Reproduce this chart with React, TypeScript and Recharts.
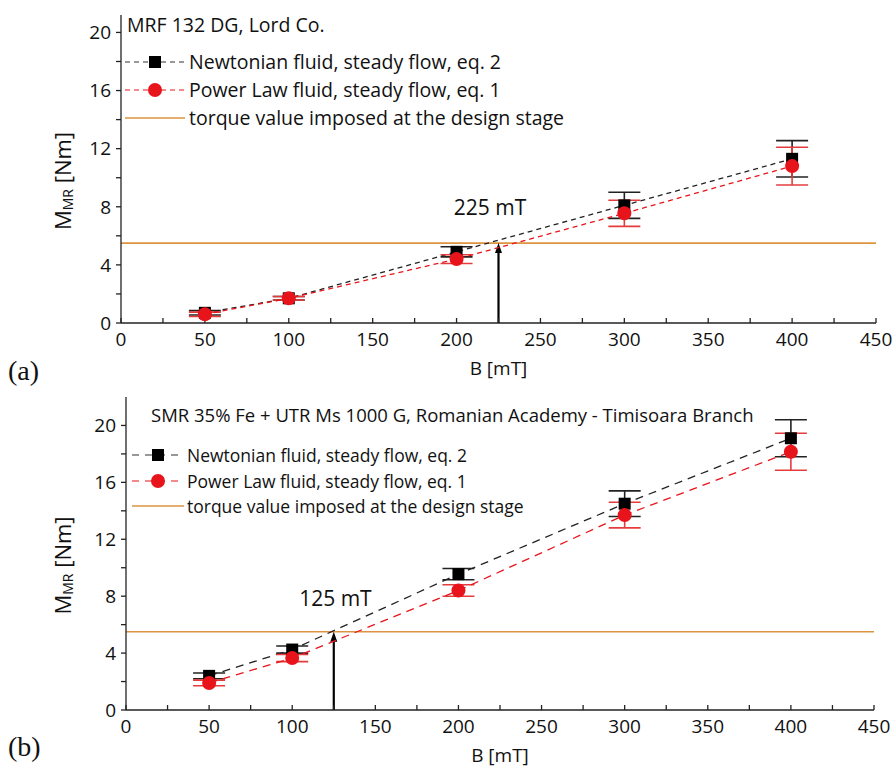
import React from "react";
import {
  ComposedChart,
  Line,
  XAxis,
  YAxis,
  ErrorBar,
  ReferenceLine,
  ReferenceDot,
} from "recharts";

// magnetic induction B [mT]
const bField = [50, 100, 200, 300, 400];

// (a) MRF 132 DG, Lord Co.
const newtonianA = [0.7, 1.7, 4.9, 8.1, 11.3];
const newtonianAErr = [0.15, 0.12, 0.35, 0.9, 1.25];
const powerLawA = [0.6, 1.7, 4.4, 7.55, 10.8];
const powerLawAErr = [0.15, 0.12, 0.3, 0.9, 1.3];

// (b) SMR 35% Fe + UTR Ms 1000 G
const newtonianB = [2.4, 4.25, 9.55, 14.5, 19.1];
const newtonianBErr = [0.2, 0.25, 0.4, 0.9, 1.3];
const powerLawB = [1.9, 3.65, 8.4, 13.7, 18.15];
const powerLawBErr = [0.2, 0.25, 0.4, 0.9, 1.3];

const torqueDesign = 5.5;
const xTicks = [0, 25, 50, 75, 100, 125, 150, 175, 200, 225, 250, 275, 300, 325, 350, 375, 400, 425, 450];
const yTicks = [0, 2, 4, 6, 8, 10, 12, 14, 16, 18, 20];

const FONT = "'Open Sans', 'Noto Sans', sans-serif";
const RED = "#e8141b";
const RED_BAR = "#e43c3c";
const ORANGE = "#dc9440";

const makeRows = (n: number[], nErr: number[], p: number[], pErr: number[]) =>
  bField.map((b, i) => ({ b, newt: n[i], newtErr: nErr[i], power: p[i], powerErr: pErr[i] }));

const rowsA = makeRows(newtonianA, newtonianAErr, powerLawA, powerLawAErr);
const rowsB = makeRows(newtonianB, newtonianBErr, powerLawB, powerLawBErr);

const SquareDot = (props: any) => {
  const { cx, cy, index } = props;
  if (cx == null || cy == null) return null;
  return <rect key={`sq-${index}`} x={cx - 6} y={cy - 6} width={12} height={12} fill="#000" />;
};

const Arrow = (props: any) => {
  const { x1, y1, y2 } = props;
  const top = Math.min(y1, y2);
  const bottom = Math.max(y1, y2);
  return (
    <g>
      <line x1={x1} y1={bottom} x2={x1} y2={top + 8} stroke="#000" strokeWidth={2.2} />
      <polygon points={`${x1 - 3.5},${top + 10} ${x1 + 3.5},${top + 10} ${x1},${top}`} fill="#000" />
    </g>
  );
};

const YLabel = (props: any) => {
  const vb = props.viewBox || {};
  const x = 62;
  const y = vb.y + vb.height / 2 + 12;
  return (
    <text
      x={x}
      y={y}
      transform={`rotate(-90 ${x} ${y})`}
      textAnchor="middle"
      dominantBaseline="central"
      fontFamily={FONT}
      fontSize={22}
      fill="#111"
    >
      M
      <tspan fontSize={14} dy={5}>
        MR
      </tspan>
      <tspan dy={-5}> [Nm]</tspan>
    </text>
  );
};

const XLabel = (props: any) => {
  const vb = props.viewBox || {};
  return (
    <text
      x={vb.x + vb.width / 2}
      y={vb.y + 45}
      textAnchor="middle"
      dominantBaseline="central"
      fontFamily={FONT}
      fontSize={19}
      fill="#111"
    >
      B [mT]
    </text>
  );
};

const tickStyle = { fontFamily: FONT, fontSize: 19, fill: "#111" };

type LegendProps = {
  top: number;
  iconLeft: number;
  iconWidth: number;
  textLeft: number;
  title: string;
  titleLeft: number;
  titleY: number;
  titleSize: number;
  textSize: number;
  rowYs: number[];
  dash: string;
};

function LegendOverlay(p: LegendProps) {
  const entries = [
    { label: "Newtonian fluid, steady flow, eq. 2", kind: "square" },
    { label: "Power Law fluid, steady flow, eq. 1", kind: "circle" },
    { label: "torque value imposed at the design stage", kind: "line" },
  ];
  const mid = p.iconWidth / 2;
  return (
    <div style={{ position: "absolute", left: 0, top: p.top, fontFamily: FONT, color: "#111" }}>
      <div
        style={{
          position: "absolute",
          left: p.titleLeft,
          top: p.titleY - p.titleSize * 0.7,
          fontSize: p.titleSize,
          lineHeight: `${p.titleSize * 1.4}px`,
          whiteSpace: "nowrap",
        }}
      >
        {p.title}
      </div>
      {entries.map((e, i) => (
        <div key={e.label}>
          <svg
            style={{ position: "absolute", left: p.iconLeft, top: p.rowYs[i] - 10 }}
            width={p.iconWidth}
            height={20}
          >
            {e.kind === "line" ? (
              <line x1={0} y1={10} x2={p.iconWidth} y2={10} stroke={ORANGE} strokeWidth={1.6} />
            ) : (
              <line
                x1={0}
                y1={10}
                x2={p.iconWidth}
                y2={10}
                stroke={e.kind === "square" ? "#333" : RED}
                strokeWidth={1.2}
                strokeDasharray={p.dash}
              />
            )}
            {e.kind === "square" && <rect x={mid - 6} y={4} width={12} height={12} fill="#000" />}
            {e.kind === "circle" && <circle cx={mid} cy={10} r={7} fill={RED} />}
          </svg>
          <div
            style={{
              position: "absolute",
              left: p.textLeft,
              top: p.rowYs[i] - p.textSize * 0.7,
              fontSize: p.textSize,
              lineHeight: `${p.textSize * 1.4}px`,
              whiteSpace: "nowrap",
            }}
          >
            {e.label}
          </div>
        </div>
      ))}
    </div>
  );
}

type PanelProps = {
  rows: any[];
  height: number;
  margin: { top: number; right: number; bottom: number; left: number };
  yMax: number;
  dash: string;
  crossB: number;
  noteX: number;
  noteY: number;
};

function Panel({ rows, height, margin, yMax, dash, crossB, noteX, noteY }: PanelProps) {
  return (
    <ComposedChart width={893} height={height} data={rows} margin={margin}>
      <XAxis
        type="number"
        dataKey="b"
        domain={[0, 450]}
        ticks={xTicks}
        interval={0}
        tickFormatter={(v: number) => (v % 50 === 0 ? String(v) : "")}
        tickSize={-5}
        tickMargin={15}
        height={30}
        tick={tickStyle}
        stroke="#222"
        strokeWidth={1.3}
        label={<XLabel />}
      />
      <YAxis
        type="number"
        domain={[0, yMax]}
        ticks={yTicks}
        interval={0}
        allowDataOverflow
        tickFormatter={(v: number) => (v % 4 === 0 ? String(v) : "")}
        tickSize={5}
        tickMargin={5}
        width={60}
        tick={tickStyle}
        stroke="#222"
        strokeWidth={1.3}
        label={<YLabel />}
      />
      <ReferenceLine y={torqueDesign} stroke={ORANGE} strokeWidth={1.6} />
      <ReferenceLine
        segment={[
          { x: crossB, y: 0 },
          { x: crossB, y: torqueDesign },
        ]}
        shape={<Arrow />}
      />
      <ReferenceDot
        x={noteX}
        y={noteY}
        r={0}
        fill="none"
        stroke="none"
        label={{ value: `${crossB} mT`, position: "center", fill: "#111", fontSize: 21, fontFamily: FONT }}
      />
      <Line
        type="linear"
        dataKey="newt"
        stroke="#222"
        strokeWidth={1.3}
        strokeDasharray={dash}
        dot={<SquareDot />}
        isAnimationActive={false}
      >
        <ErrorBar dataKey="newtErr" direction="y" width={16} stroke="#222" strokeWidth={1.6} />
      </Line>
      <Line
        type="linear"
        dataKey="power"
        stroke={RED}
        strokeWidth={1.3}
        strokeDasharray={dash}
        dot={{ r: 7, fill: RED, stroke: "none" }}
        isAnimationActive={false}
      >
        <ErrorBar dataKey="powerErr" direction="y" width={16} stroke={RED_BAR} strokeWidth={1.6} />
      </Line>
    </ComposedChart>
  );
}

export default function App() {
  return (
    <div style={{ position: "absolute", left: 0, top: 0, width: 893, height: 769, background: "#fff" }}>
      <div style={{ position: "absolute", left: 0, top: 0 }}>
        <Panel
          rows={rowsA}
          height={385}
          margin={{ top: 15, right: 17, bottom: 32, left: 61 }}
          yMax={21.2}
          dash="5 4"
          crossB={225}
          noteX={220}
          noteY={7.95}
        />
      </div>
      <LegendOverlay
        top={0}
        iconLeft={125}
        iconWidth={60}
        textLeft={189}
        title="MRF 132 DG, Lord Co."
        titleLeft={127}
        titleY={25}
        titleSize={19.5}
        textSize={19.5}
        rowYs={[62, 90, 118]}
        dash="5 4"
      />
      <div style={{ position: "absolute", left: 0, top: 385 }}>
        <Panel
          rows={rowsB}
          height={384}
          margin={{ top: 12, right: 19, bottom: 29, left: 66 }}
          yMax={22}
          dash="8 6"
          crossB={125}
          noteX={126}
          noteY={7.85}
        />
      </div>
      <LegendOverlay
        top={385}
        iconLeft={132}
        iconWidth={52}
        textLeft={187}
        title="SMR 35% Fe + UTR Ms 1000 G, Romanian Academy - Timisoara Branch"
        titleLeft={151}
        titleY={30}
        titleSize={18.5}
        textSize={17.5}
        rowYs={[70, 96, 121]}
        dash="7 6"
      />
      <div
        style={{
          position: "absolute",
          left: 8,
          top: 354,
          fontFamily: "'Liberation Serif', 'Times New Roman', serif",
          fontSize: 28,
          lineHeight: "34px",
          color: "#111",
        }}
      >
        (a)
      </div>
      <div
        style={{
          position: "absolute",
          left: 8,
          top: 730,
          fontFamily: "'Liberation Serif', 'Times New Roman', serif",
          fontSize: 28,
          lineHeight: "34px",
          color: "#111",
        }}
      >
        (b)
      </div>
    </div>
  );
}
